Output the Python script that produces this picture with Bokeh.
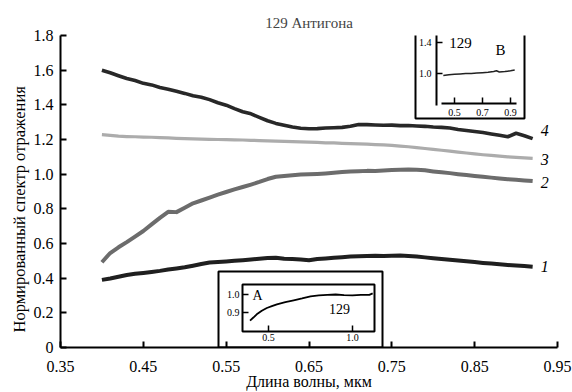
from bokeh.plotting import figure
from bokeh.models import Range1d, FixedTicker, Title
from bokeh.core.properties import value
from bokeh.embed import file_html
from bokeh.resources import INLINE

# ---------------- data ----------------
wavelength = [0.40, 0.41, 0.42, 0.43, 0.44, 0.45, 0.46, 0.47, 0.48, 0.49,
              0.50, 0.51, 0.52, 0.53, 0.54, 0.55, 0.56, 0.57, 0.58, 0.59,
              0.60, 0.61, 0.62, 0.63, 0.64, 0.65, 0.66, 0.67, 0.68, 0.69,
              0.70, 0.71, 0.72, 0.73, 0.74, 0.75, 0.76, 0.77, 0.78, 0.79,
              0.80, 0.81, 0.82, 0.83, 0.84, 0.85, 0.86, 0.87, 0.88, 0.89,
              0.90, 0.91, 0.92]

curve4 = [1.600, 1.585, 1.568, 1.552, 1.540, 1.524, 1.515, 1.500, 1.490, 1.478,
          1.466, 1.452, 1.444, 1.430, 1.412, 1.398, 1.378, 1.360, 1.348, 1.328,
          1.308, 1.293, 1.282, 1.272, 1.265, 1.262, 1.263, 1.266, 1.268, 1.270,
          1.276, 1.286, 1.286, 1.284, 1.282, 1.283, 1.280, 1.281, 1.278, 1.276,
          1.272, 1.270, 1.266, 1.258, 1.252, 1.246, 1.240, 1.232, 1.224, 1.216,
          1.236, 1.222, 1.205]

curve3 = [1.228, 1.224, 1.219, 1.217, 1.216, 1.214, 1.213, 1.211, 1.209, 1.207,
          1.205, 1.204, 1.202, 1.201, 1.200, 1.199, 1.198, 1.197, 1.195, 1.194,
          1.192, 1.191, 1.189, 1.188, 1.186, 1.185, 1.183, 1.181, 1.180, 1.178,
          1.176, 1.175, 1.173, 1.171, 1.169, 1.166, 1.162, 1.158, 1.153, 1.148,
          1.143, 1.138, 1.133, 1.127, 1.122, 1.117, 1.112, 1.108, 1.104, 1.100,
          1.097, 1.094, 1.091]

curve2 = [0.492, 0.545, 0.578, 0.608, 0.640, 0.672, 0.710, 0.748, 0.783, 0.781,
          0.806, 0.832, 0.848, 0.865, 0.882, 0.897, 0.912, 0.926, 0.940, 0.955,
          0.972, 0.985, 0.990, 0.994, 0.998, 0.999, 1.001, 1.004, 1.008, 1.012,
          1.016, 1.017, 1.019, 1.018, 1.021, 1.024, 1.026, 1.027, 1.025, 1.022,
          1.016, 1.011, 1.006, 1.000, 0.995, 0.990, 0.985, 0.980, 0.975, 0.971,
          0.968, 0.964, 0.960]

curve1 = [0.390, 0.398, 0.408, 0.418, 0.425, 0.430, 0.436, 0.442, 0.450, 0.456,
          0.463, 0.472, 0.482, 0.490, 0.493, 0.496, 0.500, 0.504, 0.508, 0.512,
          0.516, 0.518, 0.512, 0.510, 0.507, 0.503, 0.510, 0.514, 0.518, 0.521,
          0.525, 0.527, 0.528, 0.529, 0.528, 0.530, 0.531, 0.528, 0.525, 0.520,
          0.515, 0.510, 0.506, 0.502, 0.498, 0.493, 0.488, 0.484, 0.480, 0.476,
          0.473, 0.470, 0.466]

curve_labels = ["1", "2", "3", "4"]

x_ticks = [0.35, 0.45, 0.55, 0.65, 0.75, 0.85, 0.95]
x_tick_labels = ["0.35", "0.45", "0.55", "0.65", "0.75", "0.85", "0.95"]
y_ticks = [0.0, 0.2, 0.4, 0.6, 0.8, 1.0, 1.2, 1.4, 1.6, 1.8]
y_tick_labels = ["0", "0.2", "0.4", "0.6", "0.8", "1.0", "1.2", "1.4", "1.6", "1.8"]

title_text = "129 Антигона"
x_label_text = "Длина волны, мкм"
y_label_text = "Нормированный спектр отражения"

# inset A (full range)
inset_a_x = [0.39, 0.41, 0.43, 0.46, 0.49, 0.52, 0.55, 0.60, 0.65, 0.70,
             0.75, 0.80, 0.85, 0.90, 0.95, 1.00, 1.05, 1.10, 1.12]
inset_a_y = [0.855, 0.872, 0.890, 0.910, 0.925, 0.935, 0.945, 0.958, 0.968, 0.978,
             0.990, 0.995, 0.998, 1.000, 0.997, 0.995, 0.998, 0.998, 1.006]
inset_a_xticks = [0.5, 1.0]
inset_a_xtick_labels = ["0.5", "1.0"]
inset_a_yticks = [0.9, 1.0]
inset_a_ytick_labels = ["0.9", "1.0"]

# inset B
inset_b_x = [0.42, 0.46, 0.50, 0.54, 0.58, 0.62, 0.66, 0.70, 0.74, 0.78,
             0.80, 0.82, 0.86, 0.88, 0.90, 0.93]
inset_b_y = [0.975, 0.985, 0.990, 0.995, 1.000, 1.000, 1.005, 1.010, 1.015, 1.025,
             1.035, 1.020, 1.025, 1.030, 1.035, 1.045]
inset_b_xticks = [0.5, 0.7, 0.9]
inset_b_xtick_labels = ["0.5", "0.7", "0.9"]
inset_b_yticks = [1.0, 1.4]
inset_b_ytick_labels = ["1.0", "1.4"]

# ---------------- layout ----------------
FONT = "Liberation Serif"
W, H = 572, 392
BL, BR, BT, BB = 60, 15, 35, 45
PL, PR, PT, PB = BL, W - BR, BT, H - BB

p = figure(width=W, height=H, output_backend="svg", toolbar_location=None,
           x_range=Range1d(0.35, 0.95), y_range=Range1d(0, 1.8),
           min_border_left=BL, min_border_right=BR, min_border_top=BT,
           min_border_bottom=BB)
p.background_fill_color = "white"
p.border_fill_color = "white"
p.outline_line_color = None
p.xgrid.visible = False
p.ygrid.visible = False

p.title.text = title_text
p.title.align = "center"
p.title.text_font = FONT
p.title.text_font_size = "15px"
p.title.text_font_style = "normal"
p.title.standoff = 9

for ax in (p.xaxis[0], p.yaxis[0]):
    ax.axis_line_width = 2
    ax.axis_line_color = "black"
    ax.major_tick_line_width = 2
    ax.major_tick_line_color = "black"
    ax.major_tick_in = 6
    ax.major_tick_out = 0
    ax.minor_tick_line_color = None
    ax.major_label_text_font = FONT
    ax.major_label_text_font_size = "16px"
    ax.major_label_text_color = "black"

xa = p.xaxis[0]
xa.ticker = FixedTicker(ticks=x_ticks)
xa.major_label_overrides = dict(zip(x_ticks, x_tick_labels))
xa.major_label_standoff = 13
xa.axis_label = x_label_text
xa.axis_label_text_font = FONT
xa.axis_label_text_font_size = "16px"
xa.axis_label_text_font_style = "normal"
xa.axis_label_text_color = "black"
xa.axis_label_standoff = -2

ya = p.yaxis[0]
ya.ticker = FixedTicker(ticks=y_ticks)
ya.major_label_overrides = dict(zip(y_ticks, y_tick_labels))
ya.major_label_standoff = 7

# y axis title as a side-panel title, anchored a little above the frame bottom
p.add_layout(Title(text=y_label_text, align="left", offset=15, standoff=4,
                   text_font=FONT, text_font_size="16.5px", text_font_style="normal",
                   text_color="black"), "left")

# pixel range (page coordinates) for decorations
p.extra_x_ranges["px"] = Range1d(PL, PR)
p.extra_y_ranges["px"] = Range1d(PB, PT)


def inset_ranges(name, cx, cy):
    (dx0, px0), (dx1, px1) = cx
    (dy0, py0), (dy1, py1) = cy
    sx = (dx1 - dx0) / (px1 - px0)
    sy = (dy1 - dy0) / (py1 - py0)
    p.extra_x_ranges[name] = Range1d(dx0 + (PL - px0) * sx, dx0 + (PR - px0) * sx)
    p.extra_y_ranges[name] = Range1d(dy0 + (PB - py0) * sy, dy0 + (PT - py0) * sy)
    return (lambda v: px0 + (v - dx0) / sx), (lambda v: py0 + (v - dy0) / sy)


# ---------------- main curves ----------------
styles = [(curve1, "#1f1f1f", 4.0), (curve2, "#6c6c6c", 4.0),
          (curve3, "#acacac", 3.2), (curve4, "#282828", 3.6)]
for ys, col, lw in styles:
    p.line(wavelength, ys, line_color=col, line_width=lw, line_join="round")

label_dy = [0, 1, 1, -8]
for (ys, col, lw), lab, dy in zip(styles, curve_labels, label_dy):
    p.text(x=[wavelength[-1]], y=[ys[-1]], text=[lab], x_offset=8, y_offset=dy,
           text_font=value(FONT), text_font_size="16px", text_font_style="italic",
           text_align="left", text_baseline="middle", text_color="black")

# ---------------- inset A ----------------
axA, ayA = inset_ranges("A", ((0.5, 268), (1.0, 352)), ((0.9, 312), (1.0, 294)))
kw = dict(x_range_name="px", y_range_name="px")
p.quad(left=[218], right=[382], top=[271], bottom=[PB], fill_color="white",
       line_color="black", line_width=2, **kw)
p.quad(left=[242], right=[374], top=[284], bottom=[331], fill_color="white",
       line_color="black", line_width=2, **kw)
p.segment(x0=[axA(t) for t in inset_a_xticks], y0=[331] * len(inset_a_xticks),
          x1=[axA(t) for t in inset_a_xticks], y1=[325] * len(inset_a_xticks),
          line_color="black", line_width=1.5, **kw)
p.segment(x0=[242] * len(inset_a_yticks), y0=[ayA(t) for t in inset_a_yticks],
          x1=[248] * len(inset_a_yticks), y1=[ayA(t) for t in inset_a_yticks],
          line_color="black", line_width=1.5, **kw)
p.text(x=[axA(t) for t in inset_a_xticks], y=[337] * len(inset_a_xticks),
       text=inset_a_xtick_labels, text_font=value(FONT), text_font_size="10px",
       text_align="center", text_baseline="middle", **kw)
p.text(x=[239] * len(inset_a_yticks), y=[ayA(t) for t in inset_a_yticks],
       text=inset_a_ytick_labels, text_font=value(FONT), text_font_size="10px",
       text_align="right", text_baseline="middle", **kw)
p.text(x=[252], y=[295], text=["A"], text_font=value(FONT), text_font_size="14px",
       text_align="left", text_baseline="middle", **kw)
p.text(x=[339], y=[308], text=["129"], text_font=value(FONT), text_font_size="14px",
       text_align="center", text_baseline="middle", **kw)
p.line(inset_a_x, inset_a_y, x_range_name="A", y_range_name="A",
       line_color="black", line_width=1.8)

# ---------------- inset B ----------------
axB, ayB = inset_ranges("B", ((0.5, 454), (0.9, 510)), ((1.0, 73), (1.4, 42)))
p.quad(left=[415], right=[524], top=[24], bottom=[118], fill_color="white",
       line_color="black", line_width=2, **kw)
p.segment(x0=[436], y0=[27], x1=[436], y1=[105], line_color="black", line_width=2, **kw)
p.segment(x0=[441], y0=[103], x1=[516], y1=[103], line_color="black", line_width=2, **kw)
p.segment(x0=[axB(t) for t in inset_b_xticks], y0=[103] * len(inset_b_xticks),
          x1=[axB(t) for t in inset_b_xticks], y1=[97] * len(inset_b_xticks),
          line_color="black", line_width=1.5, **kw)
p.segment(x0=[436] * len(inset_b_yticks), y0=[ayB(t) for t in inset_b_yticks],
          x1=[442] * len(inset_b_yticks), y1=[ayB(t) for t in inset_b_yticks],
          line_color="black", line_width=1.5, **kw)
p.text(x=[axB(t) for t in inset_b_xticks], y=[112] * len(inset_b_xticks),
       text=inset_b_xtick_labels, text_font=value(FONT), text_font_size="10px",
       text_align="center", text_baseline="middle", **kw)
p.text(x=[431] * len(inset_b_yticks), y=[ayB(t) for t in inset_b_yticks],
       text=inset_b_ytick_labels, text_font=value(FONT), text_font_size="10px",
       text_align="right", text_baseline="middle", **kw)
p.text(x=[460], y=[42], text=["129"], text_font=value(FONT), text_font_size="15px",
       text_align="center", text_baseline="middle", **kw)
p.text(x=[500], y=[49], text=["B"], text_font=value(FONT), text_font_size="15px",
       text_align="center", text_baseline="middle", **kw)
p.line(inset_b_x, inset_b_y, x_range_name="B", y_range_name="B",
       line_color="#222222", line_width=1.5)

open("out.html", "w").write(file_html(p, INLINE))
